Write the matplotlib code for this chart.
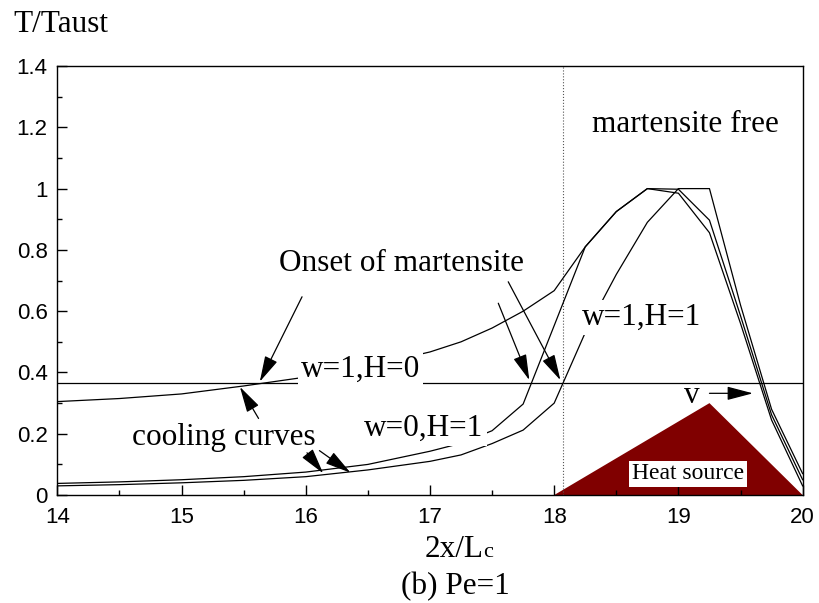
import matplotlib
matplotlib.use("Agg")
import matplotlib.pyplot as plt
from matplotlib.ticker import MultipleLocator

# position 2x/Lc and normalised temperature T/Taust for the three cases
x = [14, 14.5, 15, 15.5, 16, 16.5, 17, 17.25, 17.5, 17.75,
     18, 18.25, 18.5, 18.75, 19, 19.25, 19.5, 19.75, 20]
t_w1_h0 = [0.305, 0.315, 0.33, 0.356, 0.385, 0.42, 0.467, 0.5, 0.545, 0.6,
           0.667, 0.81, 0.925, 1.0, 0.985, 0.856, 0.56, 0.245, 0.03]
t_w0_h1 = [0.038, 0.043, 0.05, 0.06, 0.075, 0.1, 0.143, 0.169, 0.21, 0.297,
           0.553, 0.81, 0.925, 1.0, 0.998, 0.897, 0.585, 0.262, 0.05]
t_w1_h1 = [0.03, 0.034, 0.04, 0.048, 0.06, 0.082, 0.11, 0.131, 0.168, 0.212,
           0.3, 0.53, 0.72, 0.89, 1.0, 1.0, 0.62, 0.28, 0.07]

onset_T = 0.365
onset_x = 18.07
source_x = [18, 19.25, 20]
source_T = [0, 0.3, 0]

plt.rcParams["font.family"] = "Liberation Sans"
serif = "Liberation Serif"

fig = plt.figure(figsize=(8.19, 6.03), dpi=100)
ax = fig.add_axes([0.070, 0.179, 0.910, 0.7115])

ax.fill(source_x, source_T, color="#800000", lw=0, zorder=1)
ax.axhline(onset_T, color="k", lw=0.9, zorder=2)
ax.axvline(onset_x, color="#555555", lw=0.8, ls=":", zorder=2)
for t in (t_w1_h0, t_w0_h1, t_w1_h1):
    ax.plot(x, t, color="k", lw=0.9, zorder=2)

box = dict(boxstyle="square,pad=0.1", fc="white", ec="none")
big = dict(family=serif, fontsize=22.5, ha="center", va="baseline", zorder=5)
ax.text(16.77, 0.732, "Onset of martensite", **big)
ax.text(16.44, 0.386, "w=1,H=0", bbox=box, **big)
ax.text(16.95, 0.193, "w=0,H=1", bbox=box, **big)
ax.text(18.70, 0.555, "w=1,H=1", bbox=box, **big)
ax.text(15.34, 0.163, "cooling curves", **big)
ax.text(19.06, 1.186, "martensite free", **big)
ax.text(19.11, 0.30, "v", **big)
ax.text(19.08, 0.051, "Heat source", family=serif, fontsize=17,
        ha="center", va="baseline", zorder=5,
        bbox=dict(boxstyle="square,pad=0.12", fc="white", ec="none"))

arrow = dict(arrowstyle="-|>,head_length=1.6,head_width=0.42",
             mutation_scale=10, color="k", lw=0.9, shrinkA=0, shrinkB=0)
pairs = [((15.97, 0.647), (15.63, 0.37)),
         ((17.55, 0.626), (17.80, 0.375)),
         ((17.63, 0.696), (18.05, 0.375)),
         ((15.62, 0.250), (15.47, 0.353)),
         ((16.01, 0.138), (16.14, 0.071)),
         ((16.11, 0.145), (16.36, 0.073)),
         ((19.25, 0.332), (19.60, 0.332))]
for tail, head in pairs:
    ax.annotate("", xy=head, xytext=tail, arrowprops=arrow, zorder=6)

ax.set_xlim(14, 20)
ax.set_ylim(0, 1.4)
ax.xaxis.set_major_locator(MultipleLocator(1))
ax.xaxis.set_minor_locator(MultipleLocator(0.5))
ax.yaxis.set_major_locator(MultipleLocator(0.2))
ax.yaxis.set_minor_locator(MultipleLocator(0.1))
ax.set_yticks([0, 0.2, 0.4, 0.6, 0.8, 1.0, 1.2, 1.4],
              ["0", "0.2", "0.4", "0.6", "0.8", "1", "1.2", "1.4"])
ax.tick_params(which="both", direction="in", top=False, right=False,
               labelsize=16, width=1)
ax.tick_params(which="major", length=7)
ax.tick_params(which="minor", length=3.7)
ax.tick_params(axis="x", pad=8.5)
ax.tick_params(axis="y", pad=7)
for s in ax.spines.values():
    s.set_linewidth(1)

fig.text(0.0159, 0.9464, "T/Taust", family=serif, fontsize=22.5,
         ha="left", va="baseline")
fig.text(0.5900, 0.0758, "2x/L", family=serif, fontsize=22.5,
         ha="right", va="baseline")
fig.text(0.5902, 0.0758, "c", family=serif, fontsize=16,
         ha="left", va="baseline")
fig.text(0.5565, 0.014, "(b) Pe=1", family=serif, fontsize=22.5,
         ha="center", va="baseline")

fig.savefig("out.png", dpi=100)
